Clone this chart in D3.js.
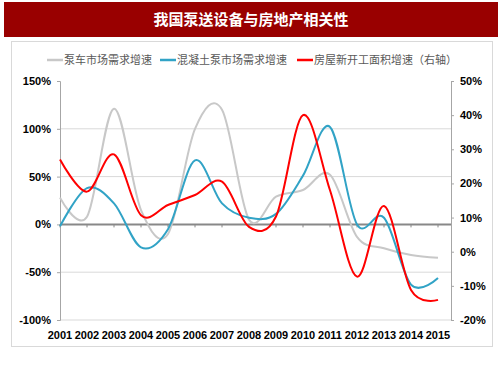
<!DOCTYPE html>
<html>
<head>
<meta charset="utf-8">
<script src="https://cdn.jsdelivr.net/npm/d3@7"></script>
<style>
  body { margin: 0; background: #fff; }
  svg { display: block; }
</style>
</head>
<body>
<svg id="chart" width="503" height="378"></svg>
<script>
const title = '我国泵送设备与房地产相关性';
const years = ['2001', '2002', '2003', '2004', '2005', '2006', '2007', '2008',
  '2009', '2010', '2011', '2012', '2013', '2014', '2015'];
const seriesNames = ['泵车市场需求增速', '混凝土泵市场需求增速', '房屋新开工面积增速（右轴）'];
// percentages
const pumpTruck = [28, 8, 121, 15, -10, 100, 120, 5, 29, 36, 52, -13, -25, -32, -35];
const concretePump = [-2, 38, 22, -24, -5, 67, 22, 7, 11, 51, 102, 0, 7, -63, -56];
const housingStarts = [27, 17.6, 28.5, 10.7, 13.7, 16.6, 20.5, 7.3, 10.3, 40, 18, -7.3, 13.4, -11.2, -14.1];
const leftTicks = [150, 100, 50, 0, -50, -100];
const rightTicks = [50, 40, 30, 20, 10, 0, -10, -20];

const colors = ['#c8c8c8', '#31a3c6', '#ff0000'];
const svg = d3.select('#chart');

// title bar
svg.append('rect')
  .attr('x', 4).attr('y', 2).attr('width', 494).attr('height', 35)
  .attr('fill', '#990000');
svg.append('text')
  .attr('x', 251).attr('y', 20).attr('dy', '0.36em')
  .attr('text-anchor', 'middle')
  .style('font-family', '"Noto Sans CJK SC"')
  .style('font-weight', 'bold')
  .style('font-size', '15px')
  .attr('fill', '#fff')
  .text(title);

// chart frame
svg.append('rect')
  .attr('x', 11.5).attr('y', 41.5).attr('width', 481).attr('height', 305)
  .attr('fill', '#fff').attr('stroke', '#d9d9d9');

const plotLeft = 60, plotRight = 451, plotTop = 81, plotBottom = 320;

const x = d3.scalePoint().domain(years).range([60, 438]);
const yL = d3.scaleLinear().domain([-100, 150]).range([plotBottom, plotTop]);
const yR = d3.scaleLinear().domain([-20, 50]).range([plotBottom, plotTop]);

// gridlines
svg.append('g')
  .selectAll('line')
  .data(leftTicks.filter(d => d !== 0 && d !== 150))
  .join('line')
  .attr('x1', plotLeft).attr('x2', plotRight)
  .attr('y1', d => yL(d)).attr('y2', d => yL(d))
  .attr('stroke', '#d9d9d9');

const font = '"Liberation Sans", Arial, sans-serif';

// left axis
const axisL = svg.append('g')
  .attr('transform', `translate(${plotLeft},0)`)
  .call(d3.axisLeft(yL).tickValues(leftTicks).tickFormat(d => d + '%').tickSize(3).tickPadding(6));
// right axis
const axisR = svg.append('g')
  .attr('transform', `translate(${plotRight},0)`)
  .call(d3.axisRight(yR).tickValues(rightTicks).tickFormat(d => d + '%').tickSize(3).tickPadding(6));
[axisL, axisR].forEach(g => {
  g.select('.domain').attr('stroke', '#a6a6a6');
  g.selectAll('.tick line').attr('stroke', '#a6a6a6');
  g.selectAll('text')
    .style('font-family', font)
    .style('font-weight', 'bold')
    .style('font-size', '11px')
    .attr('fill', '#000');
});

// zero line with category ticks
svg.append('line')
  .attr('x1', plotLeft).attr('x2', plotRight)
  .attr('y1', yL(0)).attr('y2', yL(0))
  .attr('stroke', '#888').attr('stroke-width', 2);
svg.append('g')
  .selectAll('line')
  .data(years)
  .join('line')
  .attr('x1', d => x(d)).attr('x2', d => x(d))
  .attr('y1', yL(0)).attr('y2', yL(0) + 3)
  .attr('stroke', '#888');

// x labels
svg.append('g')
  .selectAll('text')
  .data(years)
  .join('text')
  .attr('x', d => x(d)).attr('y', 335).attr('dy', '0.36em')
  .attr('text-anchor', 'middle')
  .style('font-family', font)
  .style('font-weight', 'bold')
  .style('font-size', '11px')
  .text(d => d);

// lines
const lineL = d3.line().x((d, i) => x(years[i])).y(d => yL(d)).curve(d3.curveCatmullRom.alpha(0));
const lineR = d3.line().x((d, i) => x(years[i])).y(d => yR(d)).curve(d3.curveCatmullRom.alpha(0));

svg.append('path').attr('d', lineL(pumpTruck))
  .attr('fill', 'none').attr('stroke', colors[0]).attr('stroke-width', 2);
svg.append('path').attr('d', lineL(concretePump))
  .attr('fill', 'none').attr('stroke', colors[1]).attr('stroke-width', 2);
svg.append('path').attr('d', lineR(housingStarts))
  .attr('fill', 'none').attr('stroke', colors[2]).attr('stroke-width', 2);

// legend
const legendX = [47, 160, 297];
const legend = svg.append('g')
  .selectAll('g')
  .data(seriesNames)
  .join('g')
  .attr('transform', (d, i) => `translate(${legendX[i]},60)`);
legend.append('line')
  .attr('x1', 0).attr('x2', 16)
  .attr('stroke', (d, i) => colors[i]).attr('stroke-width', 2.5);
legend.append('text')
  .attr('x', 17).attr('dy', '0.36em')
  .style('font-family', '"Noto Sans CJK SC"')
  .style('font-size', '11px')
  .attr('fill', '#595959')
  .text(d => d);
</script>
</body>
</html>
